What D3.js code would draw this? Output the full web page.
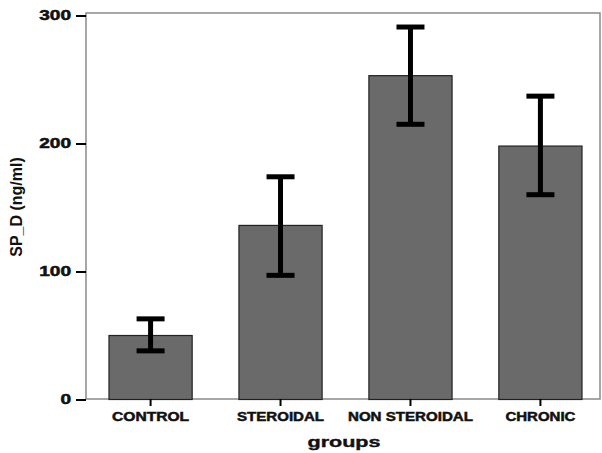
<!DOCTYPE html>
<html>
<head>
<meta charset="utf-8">
<script src="https://cdn.jsdelivr.net/npm/d3@7"></script>
<style>
  body { margin: 0; background: #fff; }
  text { font-family: "Liberation Sans", Arial, sans-serif; font-weight: bold; }
</style>
</head>
<body>
<div id="chart"></div>
<script>
"use strict";

const groups = ["CONTROL", "STEROIDAL", "NON STEROIDAL", "CHRONIC"];
const means = [50, 136, 253, 198];
const lower = [38, 97, 215, 160];
const upper = [63, 174, 291, 237];
const yTicks = [0, 100, 200, 300];

const width = 602, height = 453;
const frame = {left: 86, right: 600, top: 13, bottom: 399};

const bardata = groups.map((g, i) => ({
    group: g, mean: means[i], lo: lower[i], hi: upper[i]
}));

const xScale = d3.scaleBand()
                 .domain(groups)
                 .range([frame.left, 605])
                 .paddingInner(0.36)
                 .paddingOuter(0.177);
const yScale = d3.scaleLinear()
                 .domain([0, 300])
                 .range([399.5, 15.5]);

const svg = d3.select("#chart").append("svg")
              .attr("width", width)
              .attr("height", height);

// frame
svg.append("rect")
   .attr("x", frame.left).attr("y", frame.top)
   .attr("width", frame.right - frame.left).attr("height", frame.bottom - frame.top)
   .attr("fill", "none")
   .attr("stroke", "#8a8a8a")
   .attr("stroke-width", 1.5);

// bars
svg.append("g").selectAll("rect").data(bardata).enter()
   .append("rect")
   .attr("x", d => xScale(d.group))
   .attr("width", xScale.bandwidth())
   .attr("y", d => yScale(d.mean))
   .attr("height", d => yScale(0) - yScale(d.mean))
   .attr("fill", "#6a6a6a")
   .attr("stroke", "#222")
   .attr("stroke-width", 1.2);

// error bars
const err = svg.append("g").selectAll("g").data(bardata).enter().append("g")
               .attr("stroke", "#000")
               .attr("stroke-width", 5);
const cx = d => xScale(d.group) + xScale.bandwidth() / 2;
err.append("line")
   .attr("x1", cx).attr("x2", cx)
   .attr("y1", d => yScale(d.lo)).attr("y2", d => yScale(d.hi));
err.append("line")
   .attr("x1", d => cx(d) - 14).attr("x2", d => cx(d) + 14)
   .attr("y1", d => yScale(d.hi)).attr("y2", d => yScale(d.hi));
err.append("line")
   .attr("x1", d => cx(d) - 14).attr("x2", d => cx(d) + 14)
   .attr("y1", d => yScale(d.lo)).attr("y2", d => yScale(d.lo));

// y axis
const yAxis = svg.append("g")
                 .attr("transform", `translate(${frame.left}, 0)`)
                 .call(d3.axisLeft(yScale).tickValues(yTicks).tickSize(10).tickPadding(5));
yAxis.select(".domain").remove();
yAxis.selectAll(".tick line").attr("stroke", "#000").attr("stroke-width", 2);
yAxis.selectAll(".tick text")
     .attr("fill", "#111")
     .attr("stroke", "#111")
     .attr("stroke-width", 0.5)
     .style("font-size", "14px")
     .attr("textLength", d => String(d).length * 10.6)
     .attr("lengthAdjust", "spacingAndGlyphs");

// x axis
const xAxis = svg.append("g")
                 .attr("transform", `translate(0, ${frame.bottom})`)
                 .call(d3.axisBottom(xScale).tickSize(7).tickPadding(6));
xAxis.select(".domain").remove();
xAxis.selectAll(".tick line").attr("stroke", "#000").attr("stroke-width", 2);
const labelWidths = {"CONTROL": 77, "STEROIDAL": 87, "NON STEROIDAL": 125, "CHRONIC": 70};
xAxis.selectAll(".tick text")
     .attr("fill", "#111")
     .attr("stroke", "#111")
     .attr("stroke-width", 0.5)
     .style("font-size", "12.5px")
     .attr("textLength", d => labelWidths[d])
     .attr("lengthAdjust", "spacingAndGlyphs");

// axis titles
svg.append("text")
   .attr("x", 344).attr("y", 447)
   .attr("text-anchor", "middle")
   .attr("fill", "#111")
   .attr("stroke", "#111")
   .attr("stroke-width", 0.4)
   .style("font-size", "15.5px")
   .attr("textLength", 73)
   .attr("lengthAdjust", "spacingAndGlyphs")
   .text("groups");

svg.append("text")
   .attr("transform", "translate(22, 207) rotate(-90)")
   .attr("text-anchor", "middle")
   .attr("fill", "#111")
   .style("font-size", "16px")
   .text("SP_D (ng/ml)");
</script>
</body>
</html>
